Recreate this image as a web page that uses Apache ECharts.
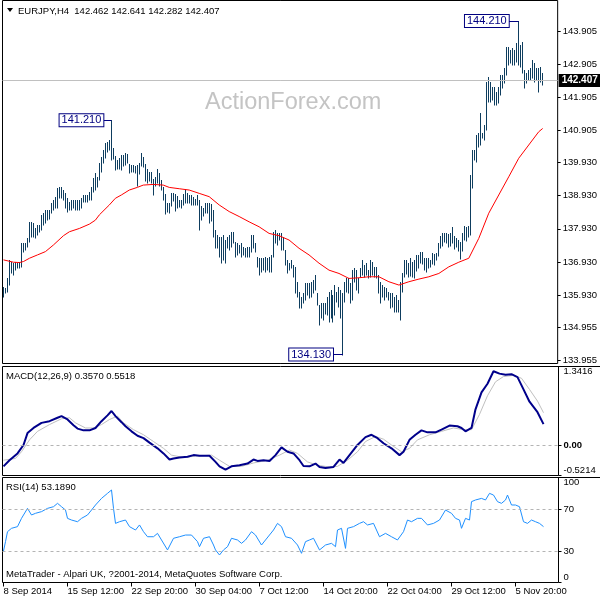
<!DOCTYPE html>
<html><head><meta charset="utf-8">
<script src="https://cdn.jsdelivr.net/npm/echarts@6/dist/echarts.min.js"></script>
<style>html,body{margin:0;padding:0;background:#fff}#c{width:600px;height:600px}</style>
</head><body><div id="c"></div>
<script>
// ---------- DATA ----------
const symbolTitle = 'EURJPY,H4  142.462 142.641 142.282 142.407';
const highs = [136.18,136.13,136.43,136.99,136.94,136.89,136.94,136.89,136.94,137.49,
137.49,137.49,137.64,138.14,138.14,138.09,137.94,138.04,138.04,138.35,
138.40,138.50,138.50,138.50,138.70,138.80,138.90,139.15,139.20,139.18,
139.10,139.00,138.85,138.75,138.80,138.80,138.80,138.80,138.80,138.85,
138.95,138.95,138.95,139.05,139.20,139.45,139.60,139.50,139.91,140.11,
140.31,140.51,140.56,140.61,141.21,140.36,140.12,140.01,140.06,140.16,
140.16,140.21,140.18,139.88,139.86,139.86,139.84,139.86,139.92,140.21,
140.11,139.88,139.74,139.66,139.66,139.42,139.50,139.73,139.60,139.40,
139.18,138.98,138.72,138.70,139.00,139.00,138.98,138.92,138.80,138.80,
138.98,139.12,139.02,138.95,138.95,138.90,138.82,138.95,138.80,138.62,
138.57,138.70,138.70,138.70,138.68,138.50,137.89,137.74,137.69,137.69,
137.74,137.59,137.69,137.74,137.84,137.84,137.54,137.49,137.44,137.49,
137.39,137.34,137.39,137.39,137.74,137.74,137.49,137.09,137.04,137.04,
137.04,137.09,137.04,137.09,137.14,137.84,137.89,137.79,137.79,137.79,
137.69,137.29,136.99,136.89,136.99,136.83,136.78,136.33,136.03,135.88,
135.98,136.28,136.28,136.28,136.33,136.38,136.53,135.98,135.63,135.68,
135.68,135.68,135.88,136.03,136.08,135.93,136.23,136.03,136.18,136.08,
135.98,136.33,136.43,136.43,136.28,136.68,136.73,136.68,136.43,136.73,
136.99,136.83,136.89,136.68,136.99,136.94,136.78,136.78,136.53,136.33,
136.23,136.18,136.13,136.03,135.98,135.98,135.88,135.93,135.78,136.33,
136.58,136.99,136.98,136.90,137.04,136.94,137.00,137.14,137.14,137.24,
137.22,137.06,137.06,137.04,137.00,137.19,137.16,137.20,137.50,137.72,
137.79,137.79,137.79,137.78,137.79,137.99,137.72,137.64,137.59,137.52,
137.79,138.01,137.99,138.02,139.55,140.31,140.31,140.76,140.81,141.42,
140.81,141.06,142.35,142.53,142.37,142.22,142.22,142.07,142.22,142.57,
142.57,142.78,143.43,143.43,143.33,143.38,143.33,143.53,144.21,143.48,
143.58,142.73,142.63,142.73,142.78,143.03,142.93,142.78,142.78,142.83,142.641];
const lows = [135.88,135.98,136.03,136.23,136.58,136.53,136.68,136.73,136.73,136.78,
137.24,137.29,137.39,137.54,137.69,137.69,137.64,137.74,137.84,137.89,
138.04,138.09,138.19,138.24,138.40,138.50,138.55,138.55,138.85,138.85,
138.80,138.55,138.45,138.50,138.50,138.55,138.50,138.50,138.50,138.55,
138.75,138.75,138.75,138.80,138.80,139.05,139.10,139.20,139.40,139.66,
139.91,140.06,140.26,140.31,140.00,140.05,139.71,139.73,139.73,139.70,
139.84,139.86,139.91,139.60,139.63,139.63,139.60,139.22,139.58,139.84,
139.80,139.38,139.32,139.38,139.32,138.95,139.22,139.32,139.22,139.10,
138.80,138.38,138.45,138.42,138.62,138.78,138.48,138.55,138.58,138.55,
138.65,138.72,138.72,138.70,138.65,138.65,138.65,138.65,137.89,138.20,
138.32,138.42,138.40,138.10,138.16,137.69,137.34,137.34,137.09,136.89,
136.99,136.89,137.34,137.29,137.39,137.49,137.09,137.14,137.19,137.09,
137.14,137.09,137.09,137.09,137.24,137.34,137.24,136.78,136.53,136.63,
136.68,136.63,136.68,136.63,136.63,137.09,137.49,137.44,137.59,137.29,
137.29,136.83,136.58,136.68,136.73,136.48,135.98,135.88,135.53,135.53,
135.68,135.78,135.93,135.83,135.88,135.98,136.08,135.63,135.02,135.22,
135.17,135.37,135.32,135.12,135.22,135.12,135.32,135.73,135.58,135.22,
134.13,135.73,136.03,135.98,135.68,135.78,136.33,136.08,135.98,136.48,
136.53,136.48,136.53,136.43,136.48,136.53,136.48,136.43,135.98,135.68,
135.88,135.78,135.88,135.78,135.53,135.58,135.43,135.43,135.43,135.17,
136.03,136.48,136.55,136.48,136.50,136.48,136.43,136.65,136.73,136.90,
136.88,136.68,136.63,136.75,136.78,136.88,136.84,137.00,137.10,137.34,
137.42,137.54,137.49,137.39,137.42,137.49,137.32,137.39,137.27,137.02,
137.27,137.59,137.57,137.69,137.74,139.15,140.01,139.96,140.41,140.46,
140.66,140.61,140.91,141.77,141.77,141.82,141.67,141.67,141.72,141.97,
142.17,142.32,142.57,142.88,142.93,142.88,142.88,142.98,142.88,142.83,
142.63,142.17,142.32,142.42,142.42,142.47,142.37,142.42,142.07,142.37,142.282];
const lastPrice = 142.407;

// moving average (red) read at sample bars
const maBars = [0,5,8,10,13,17,21,25,30,33,38,43,46,48,53,56,59,63,67,70,75,80,83,88,93,98,103,108,113,118,123,128,133,138,143,148,153,158,163,168,173,178,183,188,193,198,203,208,213,218,223,228,233,238,243,248,253,258,263,268,270];
const maVals = [136.99,136.92,136.91,136.94,137.04,137.14,137.24,137.44,137.72,137.84,137.94,138.07,138.19,138.35,138.65,138.85,138.95,139.10,139.18,139.25,139.27,139.25,139.18,139.14,139.10,139.00,138.90,138.65,138.45,138.30,138.14,137.99,137.79,137.72,137.59,137.34,137.14,136.89,136.68,136.58,136.43,136.45,136.48,136.48,136.33,136.23,136.33,136.41,136.48,136.58,136.78,136.92,137.04,137.64,138.40,138.95,139.50,140.06,140.46,140.86,140.96];

// swing labels
const swingBars = [54, 170, 258];
const swingPrices = [141.21, 134.13, 144.21];
const swingLabelBars = [50, 165, 253];

// MACD(12,26,9)
const macdBars = [0,3,7,10,12,15,19,23,27,29,32,35,37,40,43,46,49,52,54,56,59,61,64,67,70,73,77,80,83,85,88,92,95,98,103,106,108,111,114,118,122,125,127,130,133,136,139,142,145,148,150,153,156,158,161,165,168,170,173,177,181,184,187,190,194,198,200,203,206,209,212,216,219,223,227,229,231,234,236,239,242,245,248,251,254,257,260,263,267,270];
const macdVals = [-0.365,-0.26,-0.144,0.0,0.204,0.291,0.378,0.407,0.465,0.494,0.436,0.338,0.280,0.250,0.250,0.291,0.407,0.506,0.581,0.494,0.390,0.320,0.233,0.158,0.117,0.041,-0.057,-0.144,-0.249,-0.231,-0.214,-0.202,-0.173,-0.185,-0.185,-0.289,-0.365,-0.423,-0.365,-0.347,-0.318,-0.249,-0.272,-0.260,-0.272,-0.173,-0.040,-0.115,-0.144,-0.260,-0.359,-0.365,-0.318,-0.376,-0.394,-0.376,-0.249,-0.307,-0.173,0.0,0.134,0.175,0.117,0.030,-0.057,-0.173,-0.115,0.088,0.175,0.250,0.216,0.216,0.262,0.332,0.320,0.291,0.233,0.291,0.610,0.900,1.046,1.26,1.22,1.20,1.21,1.16,0.95,0.74,0.56,0.357];
const signalBars = [0,6,9,13,17,23,29,33,36,41,45,49,53,57,60,65,70,75,80,84,90,96,104,108,113,119,125,132,138,143,147,152,157,163,167,172,177,181,186,190,194,199,203,207,213,219,225,230,234,238,242,246,250,255,259,263,267,270];
const signalVals = [-0.26,-0.23,-0.115,0.088,0.233,0.349,0.448,0.465,0.378,0.291,0.291,0.349,0.436,0.494,0.378,0.262,0.175,0.059,-0.057,-0.173,-0.214,-0.190,-0.173,-0.260,-0.365,-0.365,-0.307,-0.260,-0.173,-0.086,-0.144,-0.289,-0.347,-0.376,-0.365,-0.260,-0.115,0.059,0.146,0.099,0.0,-0.115,-0.057,0.088,0.175,0.233,0.291,0.262,0.262,0.523,0.842,1.08,1.17,1.19,1.14,0.95,0.75,0.5518];
const macdTicks = [-0.5214, 0, 1.3416];
const macdLegend = 'MACD(12,26,9) 0.3570 0.5518';

// RSI(14)
const rsiBars = [0,1,2,4,7,9,10,12,14,16,19,22,25,27,29,31,32,34,35,37,39,42,44,46,49,52,54,55,56,58,61,63,66,68,70,72,75,77,79,82,83,85,88,91,94,97,98,100,103,105,106,108,110,112,114,117,119,121,124,126,129,131,132,135,137,139,141,144,147,149,151,153,155,156,158,161,164,166,167,169,171,172,175,178,180,182,185,188,191,194,197,200,202,204,207,209,212,215,218,221,224,226,228,229,231,233,234,236,239,241,243,245,247,249,251,252,254,256,258,260,262,264,266,268,270];
const rsiVals = [30.0,38.9,48.4,51.6,53.2,61.1,62.7,70.6,64.3,65.9,67.5,70.6,72.2,75.4,72.2,69.0,61.1,59.5,61.1,57.9,61.1,64.3,69.0,73.8,80.1,84.9,88.1,70.6,56.3,57.9,59.5,53.2,50.0,54.8,48.4,43.6,43.6,46.8,40.5,31.0,32.5,42.1,43.6,45.2,45.2,38.9,34.1,42.1,43.6,35.7,31.0,26.2,31.0,34.1,42.1,40.5,37.3,40.5,48.4,45.2,35.7,40.5,38.9,50.0,56.3,53.2,43.6,42.1,35.7,27.8,38.9,40.5,42.1,43.6,31.0,35.7,37.3,34.1,50.0,51.6,32.5,51.6,53.2,56.3,57.9,54.8,56.3,43.6,46.8,43.6,40.5,48.4,59.5,57.9,61.1,61.1,54.8,56.3,59.5,69.0,65.9,61.1,59.5,51.6,61.1,59.5,77.0,78.6,80.1,78.6,84.9,83.3,77.0,75.4,78.6,83.3,73.8,73.8,72.2,57.9,56.3,59.5,57.9,56.3,53.2];
const rsiTicks = [0, 30, 70, 100];
const rsiLevels = [70, 30];
const rsiLegend = 'RSI(14) 53.1890';

// price scale labels and time labels
const priceTicks = [133.955,134.955,135.930,136.930,137.930,138.930,139.930,140.905,141.905,142.905,143.905];
const timeLabels = ['8 Sep 2014','15 Sep 12:00','22 Sep 20:00','30 Sep 04:00','7 Oct 12:00','14 Oct 20:00','22 Oct 04:00','29 Oct 12:00','5 Nov 20:00'];
const timeLabelBars = [0,32,64,96,128,160,192,224,256];
const watermark = 'ActionForex.com';
const footer = 'MetaTrader - Alpari UK, ?2001-2014, MetaQuotes Software Corp.';

// ---------- CHART ----------
const SLOTS = 278;
const FONT = 'Liberation Sans';
const FS = 9.5;
const cats = Array.from({length: SLOTS}, (_, i) => {
  const k = timeLabelBars.indexOf(i); return k >= 0 ? timeLabels[k] : '';
});
const pairs = (xs, ys) => xs.map((x, i) => [x, ys[i]]);
const BAR_COLOR = '#0e3d5e';

const chart = echarts.init(document.getElementById('c'), null, {renderer: 'canvas', width: 600, height: 600});

const gridBase = {left: 2.5, width: 556, show: true, borderColor: '#000', borderWidth: 1, backgroundColor: 'rgba(0,0,0,0)'};
const isLabel = (i, v) => v !== '';

const option = {
  animation: false,
  backgroundColor: '#ffffff',
  textStyle: {fontFamily: FONT},
  grid: [
    Object.assign({top: 0.5, height: 363}, gridBase),
    Object.assign({top: 366.5, height: 109}, gridBase),
    Object.assign({top: 477.5, height: 105}, gridBase)
  ],
  xAxis: [0, 1, 2].map(g => ({
    type: 'category', gridIndex: g, data: cats, boundaryGap: true,
    axisLine: {show: false},
    axisTick: {show: g === 2, interval: isLabel, alignWithLabel: true, length: 4, lineStyle: {color: '#000'}},
    axisLabel: {show: g === 2, interval: isLabel, align: 'left', color: '#000', fontSize: FS, fontFamily: FONT, margin: 4},
    splitLine: {show: false}
  })),
  yAxis: [
    {type: 'value', gridIndex: 0, position: 'right', min: 133.860, max: 144.826,
     axisLine: {show: false}, splitLine: {show: false},
     axisTick: {show: true, customValues: priceTicks, length: 3, lineStyle: {color: '#000'}},
     axisLabel: {customValues: priceTicks, formatter: v => v.toFixed(3), color: '#000', fontSize: FS, fontFamily: FONT, margin: 5}},
    {type: 'value', gridIndex: 1, position: 'right', min: -0.5214, max: 1.3416,
     axisLine: {show: false}, splitLine: {show: false},
     axisTick: {show: true, customValues: macdTicks, length: 3, lineStyle: {color: '#000'}},
     axisLabel: {customValues: macdTicks, formatter: v => v === 0 ? '{b|0.00}' : v.toFixed(4), color: '#000', fontSize: FS, fontFamily: FONT, margin: 5,
       rich: {b: {fontWeight: 'bold', fontSize: FS, fontFamily: FONT, color: '#000'}},
       verticalAlignMaxLabel: 'top', verticalAlignMinLabel: 'bottom'}},
    {type: 'value', gridIndex: 2, position: 'right', min: 0, max: 100,
     axisLine: {show: false}, splitLine: {show: false},
     axisTick: {show: true, customValues: rsiTicks, length: 3, lineStyle: {color: '#000'}},
     axisLabel: {customValues: rsiTicks, formatter: v => String(v), color: '#000', fontSize: FS, fontFamily: FONT, margin: 5,
       verticalAlignMaxLabel: 'top', verticalAlignMinLabel: 'bottom'}}
  ],
  series: [
    {type: 'line', xAxisIndex: 0, yAxisIndex: 0, z: 1, silent: true, symbol: 'none',
     data: [[highs.length - 1, lastPrice]], lineStyle: {width: 0},
     markLine: {symbol: 'none', silent: true, animation: false,
       lineStyle: {color: '#c0c0c0', type: 'solid', width: 1},
       label: {position: 'end', distance: 1, formatter: () => lastPrice.toFixed(3), color: '#fff', backgroundColor: '#000',
         padding: [2, 3, 1, 3], fontSize: 10, fontWeight: 'bold', fontFamily: FONT},
       data: [{yAxis: lastPrice}]}},
    {type: 'custom', xAxisIndex: 0, yAxisIndex: 0, z: 2, silent: true,
     data: highs.map((h, i) => [i, lows[i], h]),
     encode: {x: 0, y: [1, 2]},
     renderItem: (params, api) => {
       const lo = api.coord([api.value(0), api.value(1)]);
       const hi = api.coord([api.value(0), api.value(2)]);
       const x = Math.floor(lo[0]) + 0.5;
       return {type: 'line', shape: {x1: x, y1: Math.round(lo[1]) + 0.5, x2: x, y2: Math.round(hi[1])},
         style: {stroke: BAR_COLOR, lineWidth: 1}};
     }},
    {type: 'line', xAxisIndex: 0, yAxisIndex: 0, z: 3, silent: true, symbol: 'none', smooth: false,
     data: pairs(maBars, maVals), lineStyle: {color: '#ff0000', width: 1}},
    {type: 'line', xAxisIndex: 0, yAxisIndex: 0, z: 4, silent: true, symbol: 'none', lineStyle: {width: 0},
     data: pairs(swingBars, swingPrices),
     markLine: {symbol: 'none', silent: true, animation: false,
       lineStyle: {color: '#000080', type: 'solid', width: 1},
       label: {position: 'start', distance: 0, color: '#000080', backgroundColor: '#fff', borderColor: '#000080', borderWidth: 1,
         padding: [1, 2, 0, 2], fontSize: 11, fontFamily: FONT},
       data: swingBars.map((b, i) => [
         {coord: [swingLabelBars[i], swingPrices[i]], label: {formatter: swingPrices[i].toFixed(3)}},
         {coord: [b, swingPrices[i]]}
       ])}},
    {type: 'line', xAxisIndex: 1, yAxisIndex: 1, z: 1, silent: true, symbol: 'none', lineStyle: {width: 0},
     data: [[0, 0]],
     markLine: {symbol: 'none', silent: true, animation: false, label: {show: false},
       lineStyle: {color: '#b4b4b4', type: [3, 3], width: 1}, data: [{yAxis: 0}]}},
    {type: 'line', xAxisIndex: 1, yAxisIndex: 1, z: 2, silent: true, symbol: 'none',
     data: pairs(signalBars, signalVals), lineStyle: {color: '#c0c0c0', width: 1}},
    {type: 'line', xAxisIndex: 1, yAxisIndex: 1, z: 3, silent: true, symbol: 'none',
     data: pairs(macdBars, macdVals), lineStyle: {color: '#00008b', width: 2}},
    {type: 'line', xAxisIndex: 2, yAxisIndex: 2, z: 1, silent: true, symbol: 'none', lineStyle: {width: 0},
     data: [[0, rsiLevels[0]]],
     markLine: {symbol: 'none', silent: true, animation: false, label: {show: false},
       lineStyle: {color: '#b4b4b4', type: [3, 3], width: 1}, data: rsiLevels.map(v => ({yAxis: v}))}},
    {type: 'line', xAxisIndex: 2, yAxisIndex: 2, z: 2, silent: true, symbol: 'none',
     data: pairs(rsiBars, rsiVals), lineStyle: {color: '#1e90ff', width: 1}}
  ],
  graphic: [
    {type: 'line', shape: {x1: 558, y1: 366.5, x2: 600, y2: 366.5}, style: {stroke: '#000', lineWidth: 1}},
    {type: 'line', shape: {x1: 558, y1: 477.5, x2: 600, y2: 477.5}, style: {stroke: '#000', lineWidth: 1}},
    {type: 'polygon', shape: {points: [[7, 8], [13, 8], [10, 12]]}, style: {fill: '#000'}},
    {type: 'text', left: 18, top: 6, style: {text: symbolTitle, fill: '#000', fontSize: FS, fontFamily: FONT}},
    {type: 'text', left: 205, top: 91, style: {text: watermark, fill: '#c4c4c4', fontSize: 23.5, fontFamily: FONT}},
    {type: 'text', left: 6, top: 371, style: {text: macdLegend, fill: '#000', fontSize: FS, fontFamily: FONT}},
    {type: 'text', left: 6, top: 482, style: {text: rsiLegend, fill: '#000', fontSize: FS, fontFamily: FONT}},
    {type: 'text', left: 6, top: 569, style: {text: footer, fill: '#000', fontSize: FS, fontFamily: FONT}}
  ]
};
chart.setOption(option);
</script>
</body></html>
